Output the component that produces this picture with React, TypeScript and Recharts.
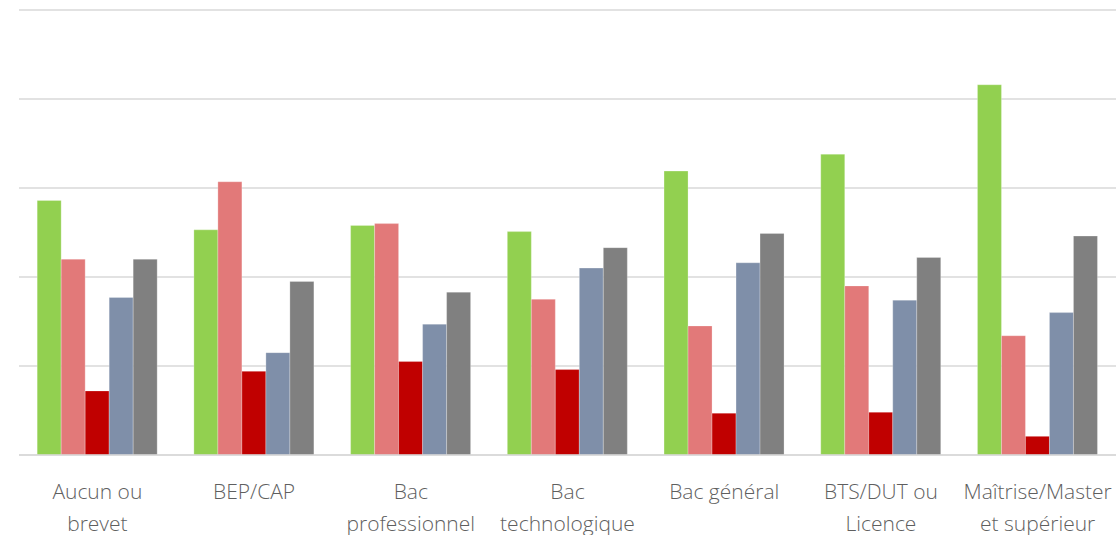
import React from "react";
import { BarChart, Bar, XAxis, YAxis, CartesianGrid } from "recharts";

// Education level categories (x axis)
const categories = [
    "Aucun ou\nbrevet",
    "BEP/CAP",
    "Bac\nprofessionnel",
    "Bac\ntechnologique",
    "Bac général",
    "BTS/DUT ou\nLicence",
    "Maîtrise/Master\net supérieur",
];

// Five series, values (grid step = 10)
const seriesGreen = [28.6, 25.3, 25.8, 25.1, 31.9, 33.8, 41.6];
const seriesPink = [22.0, 30.7, 26.0, 17.5, 14.5, 19.0, 13.4];
const seriesRed = [7.2, 9.4, 10.5, 9.6, 4.7, 4.8, 2.1];
const seriesBlue = [17.7, 11.5, 14.7, 21.0, 21.6, 17.4, 16.0];
const seriesGray = [22.0, 19.5, 18.3, 23.3, 24.9, 22.2, 24.6];

const yTicks = [0, 10, 20, 30, 40, 50];

const data = categories.map((name, i) => ({
    name,
    a: seriesGreen[i],
    b: seriesPink[i],
    c: seriesRed[i],
    d: seriesBlue[i],
    e: seriesGray[i],
}));

/** Multi-line category label. */
const CategoryTick = (props: any) => {
    const { x, y, payload } = props;
    const lines = String(payload.value).split("\n");
    return (
        <text
            x={x}
            y={y}
            textAnchor="middle"
            fill="#5f5f5f"
            fontSize={21}
            fontWeight={300}
            fontFamily="'Open Sans', sans-serif"
        >
            {lines.map((line, i) => (
                <tspan key={i} x={x} dy={i === 0 ? 42 : 32}>
                    {line}
                </tspan>
            ))}
        </text>
    );
};

const bars = [
    { key: "a", color: "#92D050" },
    { key: "b", color: "#E27979" },
    { key: "c", color: "#C00000" },
    { key: "d", color: "#7F8FA9" },
    { key: "e", color: "#808080" },
];

export default function App() {
    return (
        <div style={{ width: 1117, height: 535, background: "#fff" }}>
            <style>{`body{margin:0}`}</style>
            <BarChart
                width={1117}
                height={535}
                data={data}
                margin={{ top: 10, right: 1, left: 19, bottom: 50 }}
                barCategoryGap="11.6%"
                barGap={0}
            >
                <CartesianGrid vertical={false} stroke="#d9d9d9" strokeWidth={1.5} />
                <XAxis
                    dataKey="name"
                    height={30}
                    interval={0}
                    tickLine={false}
                    tickSize={0}
                    axisLine={{ stroke: "#d9d9d9", strokeWidth: 1.5 }}
                    tick={<CategoryTick />}
                />
                <YAxis hide domain={[0, 50]} ticks={yTicks} />
                {bars.map((b) => (
                    <Bar
                        key={b.key}
                        dataKey={b.key}
                        fill={b.color}
                        stroke="#ffffff"
                        strokeOpacity={0.5}
                        strokeWidth={0.5}
                        isAnimationActive={false}
                    />
                ))}
            </BarChart>
        </div>
    );
}
